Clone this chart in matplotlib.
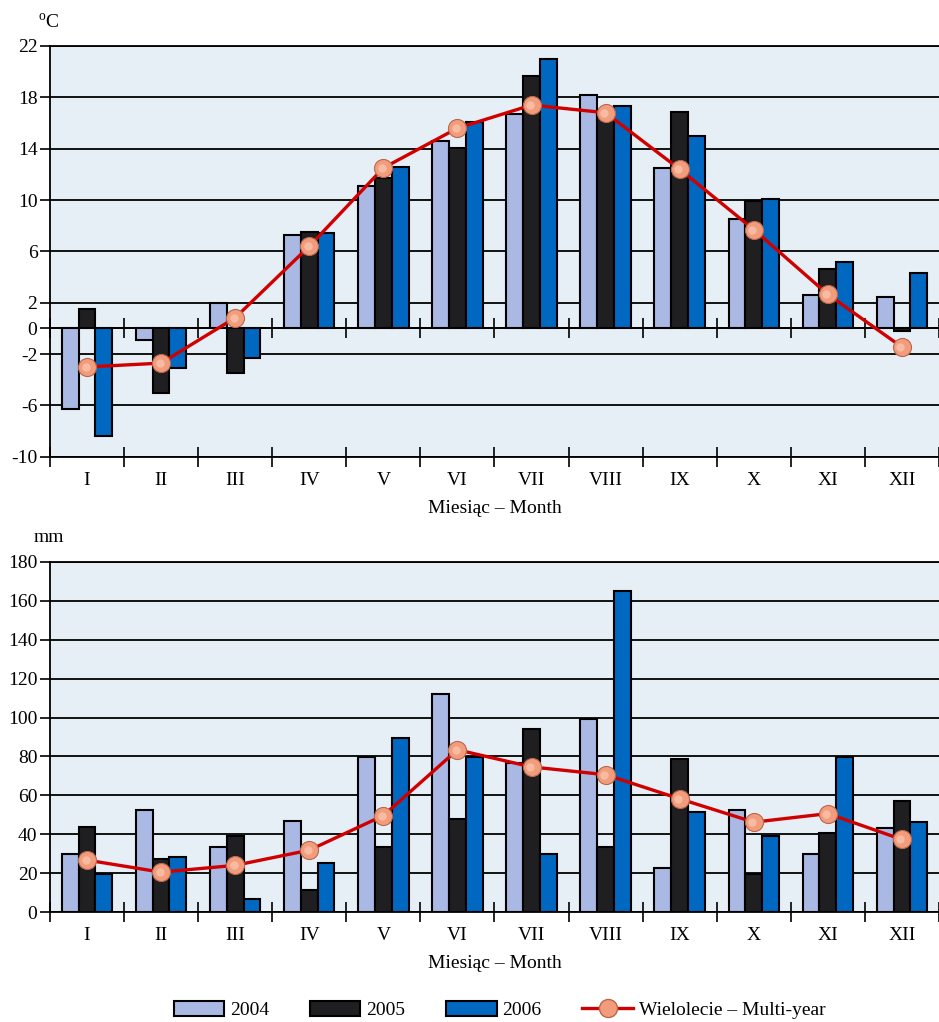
import numpy as np
import matplotlib
matplotlib.use("Agg")
import matplotlib.pyplot as plt
from matplotlib.patches import Patch
from matplotlib.lines import Line2D

plt.rcParams['font.family'] = ['Liberation Serif', 'DejaVu Serif']
plt.rcParams['mathtext.fontset'] = 'custom'
plt.rcParams['mathtext.rm'] = 'Liberation Serif'
plt.rcParams['axes.unicode_minus'] = False

months = ["I", "II", "III", "IV", "V", "VI", "VII", "VIII", "IX", "X", "XI", "XII"]
years = ["2004", "2005", "2006"]

# temperatura [oC]
temp2004 = [-6.3, -0.9, 2.0, 7.3, 11.1, 14.6, 16.7, 18.2, 12.5, 8.5, 2.6, 2.45]
temp2005 = [1.5, -5.0, -3.45, 7.5, 11.7, 14.05, 19.7, 17.0, 16.85, 9.9, 4.65, -0.2]
temp2006 = [-8.4, -3.1, -2.3, 7.4, 12.6, 16.1, 21.0, 17.3, 15.0, 10.05, 5.2, 4.35]
tempMulti = [-3.0, -2.7, 0.83, 6.4, 12.5, 15.6, 17.4, 16.8, 12.4, 7.7, 2.65, -1.45]

# opady [mm]
prec2004 = [30, 52.7, 33.3, 47, 79.5, 112.2, 76.6, 99.3, 22.4, 52.7, 29.9, 43.3]
prec2005 = [43.6, 27.4, 39.3, 11.1, 33.3, 47.9, 94, 33.3, 78.7, 19.7, 40.7, 56.9]
prec2006 = [19.7, 28.2, 6.5, 25.3, 89.4, 79.5, 29.9, 165, 51.3, 39, 79.5, 46.2]
precMulti = [26.7, 20.5, 24, 31.8, 49.6, 83.4, 74.6, 70.6, 58.2, 46.2, 50.6, 37.3]

kolory = ['#A9B9E3', '#1F1F21', '#0068C0']
tlo = '#E6EEF6'
liniaKolor = '#D00000'
kropka = '#F29C7C'

fig = plt.figure(figsize=(9.39, 10.22), dpi=100)
axTop = fig.add_axes([0.0532, 0.553, 0.9468, 0.402])
axBot = fig.add_axes([0.0532, 0.1076, 0.9468, 0.3426])

x = np.arange(len(months))
w = 0.227

def rysuj(ax, seriesList, multi):
    ax.set_facecolor(tlo)
    for i, (vals, c) in enumerate(zip(seriesList, kolory)):
        ax.bar(x + (i - 1) * w, vals, width=w, color=c, edgecolor='black', linewidth=1.5, zorder=3)
    ax.plot(x, multi, color=liniaKolor, linewidth=2.4, zorder=4)
    ax.plot(x, multi, 'o', markersize=13, markerfacecolor=kropka, markeredgecolor='#B8684E',
            markeredgewidth=0.8, zorder=5)
    ax.plot(x - 0.02, np.array(multi), 'o', markersize=6, markerfacecolor='#F8C4AC',
            markeredgewidth=0, alpha=0.8, zorder=6)
    ax.set_xlim(-0.5, 11.35)
    ax.set_xticks(np.arange(-0.5, 12, 1.0))
    ax.set_xticklabels([])
    ax.set_xticks(x, minor=True)
    ax.set_xticklabels(months, minor=True, fontsize=14)
    ax.tick_params(axis='x', which='major', direction='inout', length=14, width=1.2)
    ax.tick_params(axis='x', which='minor', length=0, pad=11)
    ax.tick_params(axis='y', direction='out', length=7, width=1.2, labelsize=14, pad=2)
    ax.grid(axis='y', color='black', linewidth=1.3, zorder=1)
    ax.set_axisbelow(True)
    ax.spines['right'].set_visible(False)
    for s in ['left', 'bottom', 'top']:
        ax.spines[s].set_linewidth(1.3)
    ax.set_xlabel("Miesiąc – Month", fontsize=14, labelpad=8)

rysuj(axTop, [temp2004, temp2005, temp2006], tempMulti)
axTop.set_ylim(-10, 22)
axTop.set_yticks([-10, -6, -2, 0, 2, 6, 10, 14, 18, 22])
axTop.axhline(0, color='black', linewidth=1.3, zorder=2)
sec = axTop.secondary_xaxis(10 / 32)
sec.set_xticks(np.arange(-0.5, 12, 1.0))
sec.set_xticklabels([])
sec.tick_params(direction='inout', length=14, width=1.2)
sec.spines['bottom'].set_visible(False)
sec.spines['top'].set_visible(False)
sec.set_zorder(2)

rysuj(axBot, [prec2004, prec2005, prec2006], precMulti)
axBot.set_ylim(0, 180)
axBot.set_yticks(np.arange(0, 181, 20))

fig.text(0.040, 0.978, r"$^{\mathrm{o}}$C", fontsize=14, ha='left', va='center')
fig.text(0.036, 0.474, "mm", fontsize=14, ha='left', va='center')

handles = [Patch(facecolor=c, edgecolor='black', linewidth=1.5, label=y) for c, y in zip(kolory, years)]
handles.append(Line2D([0], [0], color=liniaKolor, linewidth=2.4, marker='o', markersize=13,
                      markerfacecolor=kropka, markeredgecolor='#B8684E', label="Wielolecie – Multi-year"))
fig.legend(handles=handles, loc='center', bbox_to_anchor=(0.532, 0.012), ncol=4, frameon=False,
           fontsize=14, handlelength=2.6, handleheight=0.8, columnspacing=2.1, handletextpad=0.3)

fig.savefig("out.png", dpi=100, facecolor='white')
